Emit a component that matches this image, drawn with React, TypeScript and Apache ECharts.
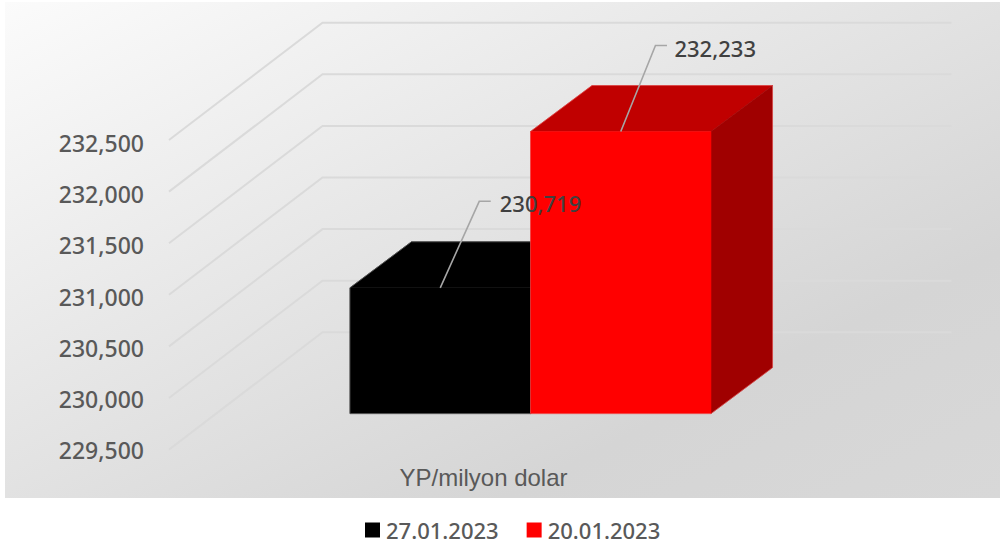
import React, { useEffect, useRef } from "react";
import * as echarts from "echarts";

const categories = ["YP/milyon dolar"];
const tickValues = [229500, 230000, 230500, 231000, 231500, 232000, 232500];
const seriesNames = ["27.01.2023", "20.01.2023"];
const values2701 = [230719];
const values2001 = [232233];

const AXIS_MIN = 229500;
const AXIS_MAX = 232500;
const AXIS_STEP = 500;
const LABEL_FONT = '"Noto Sans", sans-serif';

// projection of the 3D scene, in pixels
const WALL_DX = 153.5;
const WALL_DY = 117.3;
const BAR_PLANE_DX = 47;
const BAR_PLANE_DY = 36;
const BAR_DEPTH_DX = 61.5;
const BAR_DEPTH_DY = 46;
const BAR_RATIO = 0.287;

const gridLineItem = (params: any, api: any) => {
  const c = api.coord([api.value(0), api.value(1)]);
  const w = api.size([1, 0])[0];
  const x0 = c[0] - w / 2;
  return {
    type: "polyline",
    silent: true,
    shape: {
      points: [
        [x0, c[1]],
        [x0 + WALL_DX, c[1] - WALL_DY],
        [x0 + WALL_DX + w, c[1] - WALL_DY],
      ],
    },
    style: { stroke: "#dadada", lineWidth: 2, fill: "none" },
  };
};

const barItem = (shift: number, front: string, top: string, side: string, edge: string) => (params: any, api: any) => {
  const c = api.coord([api.value(0), api.value(1)]);
  const base = api.coord([api.value(0), AXIS_MIN]);
  const w = api.size([1, 0])[0] * BAR_RATIO;
  const x0 = c[0] + BAR_PLANE_DX + shift * w;
  const x1 = x0 + w;
  const yt = c[1] - BAR_PLANE_DY;
  const yb = base[1] - BAR_PLANE_DY;
  const dx = BAR_DEPTH_DX;
  const dy = BAR_DEPTH_DY;
  const poly = (points: number[][], fill: string) => ({
    type: "polygon",
    shape: { points },
    style: { fill, stroke: fill, lineWidth: 0.5 },
  });
  return {
    type: "group",
    children: [
      poly([[x0, yt], [x0 + dx, yt - dy], [x1 + dx, yt - dy], [x1, yt]], top),
      poly([[x1, yt], [x1 + dx, yt - dy], [x1 + dx, yb - dy], [x1, yb]], side),
      poly([[x0, yt], [x1, yt], [x1, yb], [x0, yb]], front),
      {
        type: "polygon",
        shape: {
          points: [
            [x0, yb],
            [x0, yt],
            [x0 + dx, yt - dy],
            [x1 + dx, yt - dy],
            [x1 + dx, yb - dy],
            [x1, yb],
          ],
        },
        style: { fill: "none", stroke: edge, lineWidth: 0.8 },
      },
    ],
  };
};

const leaderItem = (shift: number, elbowDx: number, elbowDy: number, textDx: number) => (params: any, api: any) => {
  const c = api.coord([api.value(0), api.value(1)]);
  const w = api.size([1, 0])[0] * BAR_RATIO;
  const sx = c[0] + BAR_PLANE_DX + (shift + 0.5) * w;
  const sy = c[1] - BAR_PLANE_DY;
  const ex = sx + elbowDx;
  const ey = sy + elbowDy;
  return {
    type: "group",
    children: [
      {
        type: "polyline",
        shape: { points: [[sx, sy], [ex, ey], [ex + 11.5, ey]] },
        style: { stroke: "#a6a6a6", lineWidth: 1.6, fill: "none" },
      },
      {
        type: "text",
        style: {
          text: Number(api.value(1)).toLocaleString("en-US"),
          x: ex + textDx,
          y: ey + 2,
          fill: "#404040",
          font: `500 22px ${LABEL_FONT}`,
          textAlign: "left",
          textVerticalAlign: "middle",
        },
      },
    ],
  };
};

export default function App() {
  const ref = useRef<HTMLDivElement>(null);
  useEffect(() => {
    document.body.style.margin = "0";
    document.body.style.background = "#ffffff";
    const chart = echarts.init(ref.current!, undefined, { renderer: "svg" });
    const option: any = {
      animation: false,
      backgroundColor: "#ffffff",
      graphic: [
        {
          type: "rect",
          z: -10,
          silent: true,
          shape: { x: 5, y: 2, width: 995, height: 496 },
          style: {
            fill: new echarts.graphic.LinearGradient(
              5,
              2,
              401,
              797,
              [
                { offset: 0, color: "#fbfbfb" },
                { offset: 0.75, color: "#d5d5d5" },
                { offset: 1, color: "#d8d8d8" },
              ],
              true
            ),
          },
        },
      ],
      legend: {
        left: 360,
        top: 514,
        itemWidth: 15,
        itemHeight: 15,
        itemGap: 28,
        icon: "rect",
        data: seriesNames,
        textStyle: {
          fontFamily: LABEL_FONT,
          fontSize: 22,
          fontWeight: 500,
          color: "#595959",
          padding: [0, 0, 0, 1],
        },
      },
      grid: [
        { left: 169, width: 629, top: 140, height: 309.6 },
        { left: 169, width: 629, top: 143, height: 307 },
      ],
      xAxis: [
        {
          type: "category",
          gridIndex: 0,
          data: categories,
          axisLine: { show: false },
          axisTick: { show: false },
          axisLabel: {
            margin: 16,
            fontFamily: '"Liberation Sans", Arial, sans-serif',
            fontSize: 24,
            color: "#595959",
          },
        },
        { type: "category", gridIndex: 1, data: categories, show: false },
      ],
      yAxis: [
        { type: "value", gridIndex: 0, min: AXIS_MIN, max: AXIS_MAX, interval: AXIS_STEP, show: false },
        {
          type: "value",
          gridIndex: 1,
          min: AXIS_MIN,
          max: AXIS_MAX,
          interval: AXIS_STEP,
          axisLine: { show: false },
          axisTick: { show: false },
          splitLine: { show: false },
          axisLabel: {
            margin: 25,
            fontFamily: LABEL_FONT,
            fontSize: 23,
            fontWeight: 500,
            color: "#595959",
            formatter: (v: number) => v.toLocaleString("en-US"),
          },
        },
      ],
      series: [
        {
          type: "custom",
          name: "grid",
          z: 1,
          silent: true,
          renderItem: gridLineItem,
          data: tickValues.map((v) => [0, v]),
        },
        {
          type: "custom",
          name: seriesNames[0],
          z: 2,
          itemStyle: { color: "#000000" },
          renderItem: barItem(-1, "#000000", "#000000", "#000000", "#595959"),
          data: values2701.map((v, i) => [i, v]),
        },
        {
          type: "custom",
          name: seriesNames[1],
          z: 3,
          itemStyle: { color: "#ff0000" },
          renderItem: barItem(0, "#ff0000", "#c00000", "#a00000", "rgba(235,90,90,0.7)"),
          data: values2001.map((v, i) => [i, v]),
        },
        {
          type: "custom",
          name: "label 1",
          z: 4,
          silent: true,
          renderItem: leaderItem(-1, 39, -86.5, 20.5),
          data: values2701.map((v, i) => [i, v]),
        },
        {
          type: "custom",
          name: "label 2",
          z: 4,
          silent: true,
          renderItem: leaderItem(0, 34.7, -86, 19),
          data: values2001.map((v, i) => [i, v]),
        },
      ],
    };
    chart.setOption(option);
    return () => chart.dispose();
  }, []);
  return <div ref={ref} style={{ width: 1000, height: 541 }} />;
}
